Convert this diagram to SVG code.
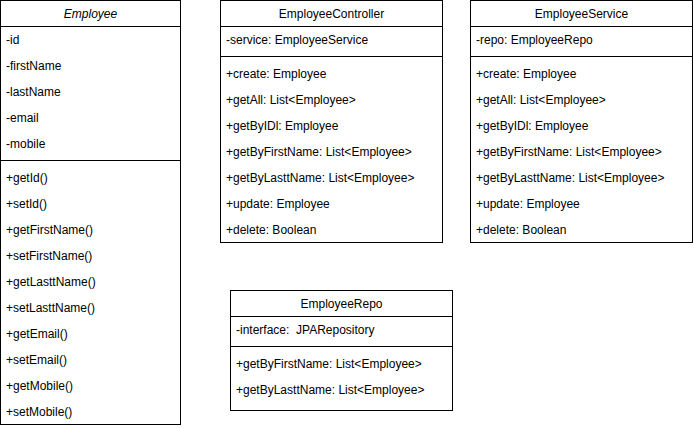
<svg xmlns="http://www.w3.org/2000/svg" width="693" height="428" viewBox="0 0 693 428">
<style>
.box{fill:#fff;stroke:#000;stroke-width:1}
.ln{stroke:#000;stroke-width:1;fill:none}
text{font-family:"Liberation Sans",Arial,Helvetica,sans-serif;font-size:12px;fill:#000;white-space:pre}
.h{text-anchor:middle}
.it{font-style:italic}
</style>
<rect width="693" height="428" fill="#fff"/>
<g id="Employee">
<rect class="box" x="0.5" y="0.5" width="180" height="424"/>
<line class="ln" x1="0.5" y1="26.5" x2="180.5" y2="26.5"/>
<line class="ln" x1="0.5" y1="160.5" x2="180.5" y2="160.5"/>
<text class="h it" x="90.5" y="18">Employee</text>
<text x="6" y="44">-id</text>
<text x="6" y="70">-firstName</text>
<text x="6" y="96">-lastName</text>
<text x="6" y="122">-email</text>
<text x="6" y="148">-mobile</text>
<text x="6" y="182">+getId()</text>
<text x="6" y="208">+setId()</text>
<text x="6" y="234">+getFirstName()</text>
<text x="6" y="260">+setFirstName()</text>
<text x="6" y="286">+getLasttName()</text>
<text x="6" y="312">+setLasttName()</text>
<text x="6" y="338">+getEmail()</text>
<text x="6" y="364">+setEmail()</text>
<text x="6" y="390">+getMobile()</text>
<text x="6" y="416">+setMobile()</text>
</g>
<g id="EmployeeController">
<rect class="box" x="220.5" y="0.5" width="222" height="242"/>
<line class="ln" x1="220.5" y1="26.5" x2="442.5" y2="26.5"/>
<line class="ln" x1="220.5" y1="56.5" x2="442.5" y2="56.5"/>
<text class="h" x="331.5" y="18">EmployeeController</text>
<text x="226" y="44">-service: EmployeeService</text>
<text x="226" y="78">+create: Employee</text>
<text x="226" y="104">+getAll: List&lt;Employee&gt;</text>
<text x="226" y="130">+getByIDl: Employee</text>
<text x="226" y="156">+getByFirstName: List&lt;Employee&gt;</text>
<text x="226" y="182">+getByLasttName: List&lt;Employee&gt;</text>
<text x="226" y="208">+update: Employee</text>
<text x="226" y="234">+delete: Boolean</text>
</g>
<g id="EmployeeService">
<rect class="box" x="470.5" y="0.5" width="222" height="242"/>
<line class="ln" x1="470.5" y1="26.5" x2="692.5" y2="26.5"/>
<line class="ln" x1="470.5" y1="56.5" x2="692.5" y2="56.5"/>
<text class="h" x="581.5" y="18">EmployeeService</text>
<text x="476" y="44">-repo: EmployeeRepo</text>
<text x="476" y="78">+create: Employee</text>
<text x="476" y="104">+getAll: List&lt;Employee&gt;</text>
<text x="476" y="130">+getByIDl: Employee</text>
<text x="476" y="156">+getByFirstName: List&lt;Employee&gt;</text>
<text x="476" y="182">+getByLasttName: List&lt;Employee&gt;</text>
<text x="476" y="208">+update: Employee</text>
<text x="476" y="234">+delete: Boolean</text>
</g>
<g id="EmployeeRepo">
<rect class="box" x="230.5" y="290.5" width="222" height="120"/>
<line class="ln" x1="230.5" y1="316.5" x2="452.5" y2="316.5"/>
<line class="ln" x1="230.5" y1="346.5" x2="452.5" y2="346.5"/>
<text class="h" x="341.5" y="308">EmployeeRepo</text>
<text x="236" y="334">-interface:  JPARepository</text>
<text x="236" y="368">+getByFirstName: List&lt;Employee&gt;</text>
<text x="236" y="394">+getByLasttName: List&lt;Employee&gt;</text>
</g>
<g id="connectors"></g>
</svg>
